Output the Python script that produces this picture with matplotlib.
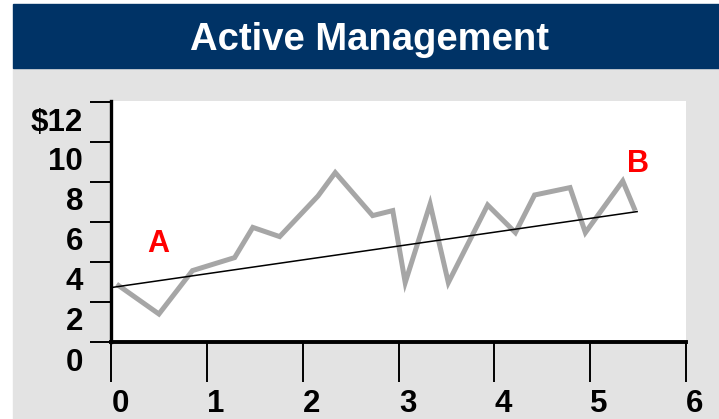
import numpy as np
import matplotlib.pyplot as plt
from matplotlib.patches import Rectangle
from matplotlib.transforms import ScaledTranslation

# values
years = [0.08, 0.50, 0.85, 1.29, 1.48, 1.76, 2.16, 2.34, 2.73, 2.94, 3.07, 3.33,
         3.52, 3.93, 4.22, 4.42, 4.79, 4.95, 5.34, 5.46]
price = [2.82, 1.40, 3.57, 4.22, 5.73, 5.27, 7.30, 8.47, 6.32, 6.57, 2.97, 6.90,
         2.97, 6.85, 5.47, 7.35, 7.72, 5.47, 8.05, 6.68]
trend_x = [0.0, 5.49]
trend_y = [2.72, 6.52]
x_ticks = [0, 1, 2, 3, 4, 5, 6]
y_ticks = [0, 2, 4, 6, 8, 10, 12]
y_labels = ['0', '2', '4', '6', '8', '10', '$12']

plt.rcParams['font.family'] = ['Liberation Sans', 'DejaVu Sans']
plt.rcParams['font.weight'] = 'bold'

W, H = 719, 419
fig = plt.figure(figsize=(W / 100, H / 100), dpi=100)
fig.patch.set_facecolor('white')

# gray panel and navy title bar (behind the axes)
fig.add_artist(Rectangle((13 / W, 0), 1 - 13 / W, (H - 68) / H,
                         transform=fig.transFigure, color='#e3e3e3', zorder=-2))
fig.add_artist(Rectangle((13 / W, (H - 68) / H), 1 - 13 / W, 64 / H,
                         transform=fig.transFigure, color='#003366', zorder=-2))
fig.text(369 / W, (H - 50) / H, 'Active Management', color='white',
         fontsize=27.5, fontweight='bold', ha='center', va='baseline')

ax = fig.add_axes([111 / W, (H - 342) / H, 575 / W, 241 / H])
ax.set_zorder(1)
ax.set_facecolor('white')

ax.plot(years, price, color='#a6a6a6', lw=3.6, solid_joinstyle='miter', zorder=3)
ax.plot(trend_x, trend_y, color='black', lw=1.1, zorder=4)

ax.text(0.49, 4.9, 'A', color='red', fontsize=22, fontweight='bold', ha='center', va='center')
ax.text(5.5, 8.9, 'B', color='red', fontsize=22, fontweight='bold', ha='center', va='center')

ax.set_xlim(0, 6)
ax.set_ylim(0, 12.05)
for s in ['top', 'right']:
    ax.spines[s].set_visible(False)
ax.spines['left'].set_linewidth(2.4)
ax.spines['bottom'].set_linewidth(2.8)

ax.set_xticks(x_ticks)
ax.set_xticklabels([str(t) for t in x_ticks])
ax.set_yticks(y_ticks)
ax.set_yticklabels(y_labels)
ax.tick_params(axis='y', direction='out', length=15, width=1.4, pad=5, labelsize=22.5)
ax.tick_params(axis='x', direction='out', length=29, width=1.4, pad=5, labelsize=22.5)

# labels sit offset from their ticks in the original
for lab in ax.get_yticklabels():
    lab.set_transform(lab.get_transform() + ScaledTranslation(0, -0.17, fig.dpi_scale_trans))
for lab in ax.get_xticklabels():
    lab.set_transform(lab.get_transform() + ScaledTranslation(0.09, 0, fig.dpi_scale_trans))

fig.savefig('out.png', dpi=100)
